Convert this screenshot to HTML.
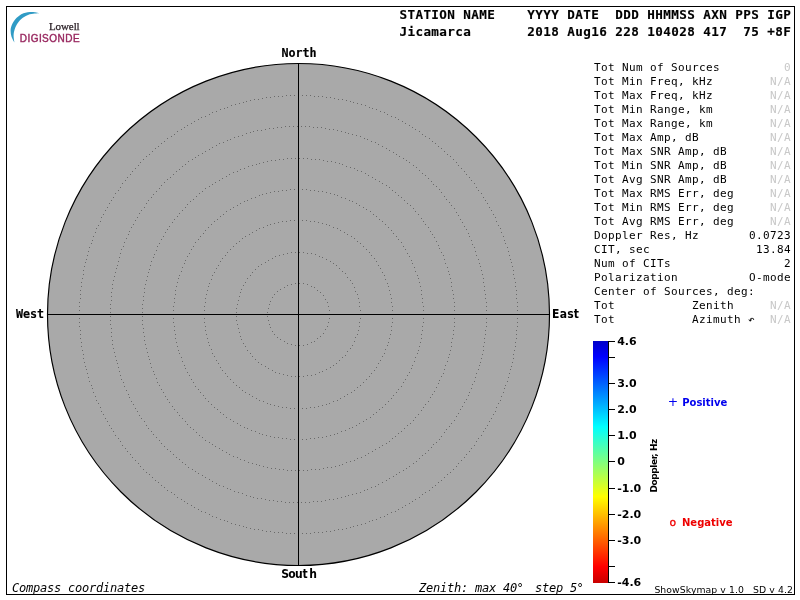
<!DOCTYPE html>
<html><head><meta charset="utf-8"><title>Skymap</title>
<style>
html,body{margin:0;padding:0;background:#fff;}
body{width:800px;height:600px;overflow:hidden;}
svg{display:block}
text{white-space:pre}
.hdr{font-family:"DejaVu Sans Mono","Liberation Mono",monospace;font-weight:bold;font-size:12.6px;letter-spacing:0.414px;fill:#000;stroke:#000;stroke-width:0.15px}
.tb{font-family:"DejaVu Sans Mono","Liberation Mono",monospace;font-size:11px;letter-spacing:0.377px;fill:#000}
.na{fill:#c8c8c8}
.it{font-family:"DejaVu Sans Mono","Liberation Mono",monospace;font-style:italic;font-size:12px;letter-spacing:-0.225px;fill:#000}
.cm{font-family:"DejaVu Sans Mono","Liberation Mono",monospace;font-weight:bold;font-size:11.7px;letter-spacing:-0.044px;fill:#000;stroke:#000;stroke-width:0.15px}
.cs{font-family:"DejaVu Sans Condensed","DejaVu Sans","Liberation Sans",sans-serif;font-weight:bold;font-size:12px;fill:#000}
.sc{font-family:"DejaVu Sans","Liberation Sans",sans-serif;font-weight:bold;font-size:11px;fill:#000}
.sm{font-family:"DejaVu Sans","Liberation Sans",sans-serif;font-size:9.3px;letter-spacing:0.075px;fill:#000}
.mk{font-family:"DejaVu Sans","Liberation Sans",sans-serif;font-weight:normal}
.lw{font-family:"Liberation Serif",serif;font-size:11px;fill:#2c2228;stroke:#2c2228;stroke-width:0.25px;letter-spacing:-0.1px}
.dg{font-family:"Liberation Sans",sans-serif;font-size:10px;letter-spacing:0.47px;fill:#98275f;stroke:#98275f;stroke-width:0.4px}
</style></head><body>
<svg width="800" height="600" viewBox="0 0 800 600">
<defs>
<linearGradient id="g" x1="0" y1="0" x2="0" y2="1">
<stop offset="0" stop-color="#0000c8"/>
<stop offset="0.065" stop-color="#0000ff"/>
<stop offset="0.3545" stop-color="#00ffff"/>
<stop offset="0.6435" stop-color="#ffff00"/>
<stop offset="0.933" stop-color="#ff0000"/>
<stop offset="1" stop-color="#c80000"/>
</linearGradient>
</defs>
<rect x="0" y="0" width="800" height="600" fill="#fff"/>
<rect x="6.5" y="6.5" width="788" height="588" fill="none" stroke="#000" stroke-width="1"/>
<g id="logo">
<path d="M39.2 13.2 C38.5 13.0 36.5 12.4 35.0 12.2 C33.5 12.0 31.6 11.9 30.0 12.0 C28.4 12.1 26.9 12.3 25.5 12.7 C24.1 13.1 23.0 13.2 21.3 14.3 C19.6 15.4 16.9 17.5 15.3 19.3 C13.7 21.1 12.5 23.4 11.7 25.3 C10.9 27.2 10.6 28.8 10.6 30.7 C10.6 32.6 10.9 34.7 11.5 36.7 C12.1 38.7 13.9 41.6 14.4 42.6 C14.3 41.5 13.6 38.0 13.6 36.0 C13.6 34.0 13.8 32.6 14.3 30.7 C14.8 28.8 15.5 26.6 16.7 24.7 C17.9 22.8 19.4 20.6 21.3 19.0 C23.2 17.4 25.8 15.9 28.0 15.0 C30.2 14.1 32.8 13.9 34.7 13.6 C36.6 13.3 38.5 13.3 39.2 13.2Z" fill="#2f9bc5"/>
<text class="lw" x="49" y="30.2">Lowell</text>
<text class="dg" x="19.7" y="42.1">DIGISONDE</text>
</g>
<text class="hdr" x="399.4" y="19.2">STATION NAME    YYYY DATE  DDD HHMMSS AXN PPS IGP</text>
<text class="hdr" x="399.4" y="35.5">Jicamarca       2018 Aug16 228 104028 417  75 +8F</text>
<circle cx="298.5" cy="314.5" r="251.0" fill="#a9a9a9" stroke="#000" stroke-width="1.15"/>
<path d="M329 314h1M329 310h1M328 306h1M327 302h1M325 299h1M323 295h1M320 292h1M317 290h1M314 287h1M311 286h1M307 284h1M303 283h1M299 283h1M295 283h1M291 284h1M287 285h1M284 287h1M280 289h1M277 291h1M274 294h1M272 297h1M270 301h1M269 304h1M268 308h1M267 312h1M267 316h1M268 320h1M269 324h1M270 327h1M272 331h1M274 334h1M277 337h1M280 339h1M284 341h1M287 343h1M291 344h1M295 345h1M299 345h1M303 345h1M307 344h1M311 342h1M314 341h1M317 338h1M320 336h1M323 333h1M325 329h1M327 326h1M328 322h1M329 318h1" transform="translate(0,0.5)" fill="none" stroke="#6a6a6a" stroke-width="1" shape-rendering="crispEdges"/>
<path d="M360 314h1M360 310h1M359 306h1M359 302h1M358 298h1M357 294h1M355 291h1M354 287h1M352 283h1M350 280h1M347 277h1M345 273h1M342 271h1M339 268h1M336 265h1M333 263h1M330 261h1M326 259h1M322 257h1M319 256h1M315 254h1M311 253h1M307 253h1M303 252h1M299 252h1M295 252h1M291 252h1M287 253h1M283 254h1M279 255h1M275 256h1M272 258h1M268 260h1M265 262h1M261 264h1M258 266h1M255 269h1M252 272h1M250 275h1M247 278h1M245 282h1M243 285h1M241 289h1M240 292h1M239 296h1M238 300h1M237 304h1M236 308h1M236 312h1M236 316h1M236 320h1M237 324h1M238 328h1M239 332h1M240 336h1M241 339h1M243 343h1M245 346h1M247 350h1M250 353h1M252 356h1M255 359h1M258 362h1M261 364h1M265 366h1M268 368h1M272 370h1M275 372h1M279 373h1M283 374h1M287 375h1M291 376h1M295 376h1M299 376h1M303 376h1M307 375h1M311 375h1M315 374h1M319 372h1M322 371h1M326 369h1M330 367h1M333 365h1M336 363h1M339 360h1M342 357h1M345 355h1M347 351h1M350 348h1M352 345h1M354 341h1M355 337h1M357 334h1M358 330h1M359 326h1M359 322h1M360 318h1" transform="translate(0,0.5)" fill="none" stroke="#6a6a6a" stroke-width="1" shape-rendering="crispEdges"/>
<path d="M392 314h1M392 310h1M392 306h1M391 302h1M391 298h1M390 294h1M389 290h1M388 286h1M387 283h1M385 279h1M384 275h1M382 272h1M380 268h1M378 265h1M376 261h1M374 258h1M371 255h1M369 252h1M366 249h1M363 246h1M360 243h1M357 241h1M354 238h1M351 236h1M347 234h1M344 232h1M340 230h1M337 228h1M333 227h1M329 225h1M326 224h1M322 223h1M318 222h1M314 221h1M310 221h1M306 220h1M302 220h1M298 220h1M294 220h1M290 220h1M286 221h1M282 221h1M278 222h1M274 223h1M270 224h1M267 225h1M263 227h1M259 228h1M256 230h1M252 232h1M249 234h1M245 236h1M242 238h1M239 241h1M236 243h1M233 246h1M230 249h1M227 252h1M225 255h1M222 258h1M220 261h1M218 265h1M216 268h1M214 272h1M212 275h1M211 279h1M209 283h1M208 286h1M207 290h1M206 294h1M205 298h1M205 302h1M204 306h1M204 310h1M204 314h1M204 318h1M204 322h1M205 326h1M205 330h1M206 334h1M207 338h1M208 342h1M209 345h1M211 349h1M212 353h1M214 356h1M216 360h1M218 363h1M220 367h1M222 370h1M225 373h1M227 376h1M230 379h1M233 382h1M236 385h1M239 387h1M242 390h1M245 392h1M249 394h1M252 396h1M256 398h1M259 400h1M263 401h1M267 403h1M270 404h1M274 405h1M278 406h1M282 407h1M286 407h1M290 408h1M294 408h1M298 408h1M302 408h1M306 408h1M310 407h1M314 407h1M318 406h1M322 405h1M326 404h1M329 403h1M333 401h1M337 400h1M340 398h1M344 396h1M347 394h1M351 392h1M354 390h1M357 387h1M360 385h1M363 382h1M366 379h1M369 376h1M371 373h1M374 370h1M376 367h1M378 363h1M380 360h1M382 356h1M384 353h1M385 349h1M387 345h1M388 342h1M389 338h1M390 334h1M391 330h1M391 326h1M392 322h1M392 318h1" transform="translate(0,0.5)" fill="none" stroke="#6a6a6a" stroke-width="1" shape-rendering="crispEdges"/>
<path d="M423 314h1M423 310h1M423 306h1M422 302h1M422 298h1M421 294h1M421 290h1M420 286h1M419 282h1M418 278h1M417 275h1M415 271h1M414 267h1M412 263h1M411 260h1M409 256h1M407 253h1M405 249h1M403 246h1M401 242h1M398 239h1M396 236h1M393 233h1M391 230h1M388 227h1M385 224h1M382 221h1M379 219h1M376 216h1M373 214h1M370 211h1M366 209h1M363 207h1M359 205h1M356 203h1M352 201h1M349 200h1M345 198h1M341 197h1M337 195h1M334 194h1M330 193h1M326 192h1M322 191h1M318 191h1M314 190h1M310 190h1M306 189h1M302 189h1M298 189h1M294 189h1M290 189h1M286 190h1M282 190h1M278 191h1M274 191h1M270 192h1M266 193h1M262 194h1M259 195h1M255 197h1M251 198h1M247 200h1M244 201h1M240 203h1M237 205h1M233 207h1M230 209h1M226 211h1M223 214h1M220 216h1M217 219h1M214 221h1M211 224h1M208 227h1M205 230h1M203 233h1M200 236h1M198 239h1M195 242h1M193 246h1M191 249h1M189 253h1M187 256h1M185 260h1M184 263h1M182 267h1M181 271h1M179 275h1M178 278h1M177 282h1M176 286h1M175 290h1M175 294h1M174 298h1M174 302h1M173 306h1M173 310h1M173 314h1M173 318h1M173 322h1M174 326h1M174 330h1M175 334h1M175 338h1M176 342h1M177 346h1M178 350h1M179 353h1M181 357h1M182 361h1M184 365h1M185 368h1M187 372h1M189 375h1M191 379h1M193 382h1M195 386h1M198 389h1M200 392h1M203 395h1M205 398h1M208 401h1M211 404h1M214 407h1M217 409h1M220 412h1M223 414h1M226 417h1M230 419h1M233 421h1M237 423h1M240 425h1M244 427h1M247 428h1M251 430h1M255 431h1M259 433h1M262 434h1M266 435h1M270 436h1M274 437h1M278 437h1M282 438h1M286 438h1M290 439h1M294 439h1M298 439h1M302 439h1M306 439h1M310 438h1M314 438h1M318 437h1M322 437h1M326 436h1M330 435h1M334 434h1M337 433h1M341 431h1M345 430h1M349 428h1M352 427h1M356 425h1M359 423h1M363 421h1M366 419h1M370 417h1M373 414h1M376 412h1M379 409h1M382 407h1M385 404h1M388 401h1M391 398h1M393 395h1M396 392h1M398 389h1M401 386h1M403 382h1M405 379h1M407 375h1M409 372h1M411 368h1M412 365h1M414 361h1M415 357h1M417 353h1M418 350h1M419 346h1M420 342h1M421 338h1M421 334h1M422 330h1M422 326h1M423 322h1M423 318h1" transform="translate(0,0.5)" fill="none" stroke="#6a6a6a" stroke-width="1" shape-rendering="crispEdges"/>
<path d="M454 314h1M454 310h1M454 306h1M454 302h1M453 298h1M453 294h1M452 290h1M451 286h1M451 282h1M450 278h1M449 274h1M448 271h1M447 267h1M445 263h1M444 259h1M443 255h1M441 252h1M439 248h1M438 245h1M436 241h1M434 237h1M432 234h1M430 231h1M428 227h1M425 224h1M423 221h1M421 218h1M418 214h1M415 211h1M413 208h1M410 205h1M407 203h1M404 200h1M401 197h1M398 195h1M395 192h1M392 190h1M389 187h1M386 185h1M382 183h1M379 181h1M375 179h1M372 177h1M368 175h1M365 173h1M361 171h1M357 170h1M354 168h1M350 167h1M346 166h1M342 164h1M339 163h1M335 162h1M331 161h1M327 161h1M323 160h1M319 159h1M315 159h1M311 159h1M307 158h1M303 158h1M299 158h1M295 158h1M291 158h1M287 158h1M283 159h1M279 159h1M275 160h1M271 160h1M267 161h1M263 162h1M259 163h1M256 164h1M252 165h1M248 166h1M244 168h1M240 169h1M237 171h1M233 172h1M229 174h1M226 176h1M222 178h1M219 180h1M215 182h1M212 184h1M209 186h1M205 188h1M202 191h1M199 193h1M196 196h1M193 199h1M190 201h1M187 204h1M185 207h1M182 210h1M179 213h1M177 216h1M174 219h1M172 222h1M169 226h1M167 229h1M165 232h1M163 236h1M161 239h1M159 243h1M157 246h1M156 250h1M154 254h1M153 257h1M151 261h1M150 265h1M149 269h1M148 272h1M147 276h1M146 280h1M145 284h1M144 288h1M144 292h1M143 296h1M143 300h1M142 304h1M142 308h1M142 312h1M142 316h1M142 320h1M142 324h1M143 328h1M143 332h1M144 336h1M144 340h1M145 344h1M146 348h1M147 352h1M148 356h1M149 359h1M150 363h1M151 367h1M153 371h1M154 374h1M156 378h1M157 382h1M159 385h1M161 389h1M163 392h1M165 396h1M167 399h1M169 402h1M172 406h1M174 409h1M177 412h1M179 415h1M182 418h1M185 421h1M187 424h1M190 427h1M193 429h1M196 432h1M199 435h1M202 437h1M205 440h1M209 442h1M212 444h1M215 446h1M219 448h1M222 450h1M226 452h1M229 454h1M233 456h1M237 457h1M240 459h1M244 460h1M248 462h1M252 463h1M256 464h1M259 465h1M263 466h1M267 467h1M271 468h1M275 468h1M279 469h1M283 469h1M287 470h1M291 470h1M295 470h1M299 470h1M303 470h1M307 470h1M311 469h1M315 469h1M319 469h1M323 468h1M327 467h1M331 467h1M335 466h1M339 465h1M342 464h1M346 462h1M350 461h1M354 460h1M357 458h1M361 457h1M365 455h1M368 453h1M372 451h1M375 449h1M379 447h1M382 445h1M386 443h1M389 441h1M392 438h1M395 436h1M398 433h1M401 431h1M404 428h1M407 425h1M410 423h1M413 420h1M415 417h1M418 414h1M421 410h1M423 407h1M425 404h1M428 401h1M430 397h1M432 394h1M434 391h1M436 387h1M438 383h1M439 380h1M441 376h1M443 373h1M444 369h1M445 365h1M447 361h1M448 357h1M449 354h1M450 350h1M451 346h1M451 342h1M452 338h1M453 334h1M453 330h1M454 326h1M454 322h1M454 318h1" transform="translate(0,0.5)" fill="none" stroke="#6a6a6a" stroke-width="1" shape-rendering="crispEdges"/>
<path d="M486 314h1M486 310h1M486 306h1M486 302h1M485 298h1M485 294h1M484 290h1M484 286h1M483 282h1M483 278h1M482 274h1M481 270h1M480 266h1M479 263h1M478 259h1M476 255h1M475 251h1M474 247h1M472 244h1M471 240h1M469 236h1M468 233h1M466 229h1M464 226h1M462 222h1M460 219h1M458 215h1M456 212h1M454 208h1M451 205h1M449 202h1M446 199h1M444 196h1M441 192h1M439 189h1M436 186h1M433 184h1M431 181h1M428 178h1M425 175h1M422 173h1M419 170h1M416 167h1M413 165h1M409 162h1M406 160h1M403 158h1M399 156h1M396 154h1M393 152h1M389 150h1M386 148h1M382 146h1M378 144h1M375 142h1M371 141h1M367 139h1M364 138h1M360 136h1M356 135h1M352 134h1M348 133h1M345 132h1M341 131h1M337 130h1M333 129h1M329 129h1M325 128h1M321 127h1M317 127h1M313 127h1M309 126h1M305 126h1M301 126h1M297 126h1M293 126h1M289 126h1M285 126h1M281 127h1M277 127h1M273 128h1M269 128h1M265 129h1M261 130h1M257 130h1M253 131h1M250 132h1M246 133h1M242 135h1M238 136h1M234 137h1M230 139h1M227 140h1M223 142h1M219 143h1M216 145h1M212 147h1M209 149h1M205 151h1M202 153h1M198 155h1M195 157h1M192 159h1M188 161h1M185 164h1M182 166h1M179 169h1M176 171h1M173 174h1M170 177h1M167 179h1M164 182h1M161 185h1M159 188h1M156 191h1M153 194h1M151 197h1M148 200h1M146 203h1M144 207h1M141 210h1M139 213h1M137 217h1M135 220h1M133 224h1M131 227h1M129 231h1M128 234h1M126 238h1M124 242h1M123 246h1M121 249h1M120 253h1M119 257h1M118 261h1M117 265h1M116 268h1M115 272h1M114 276h1M113 280h1M112 284h1M112 288h1M111 292h1M111 296h1M111 300h1M110 304h1M110 308h1M110 312h1M110 316h1M110 320h1M110 324h1M111 328h1M111 332h1M111 336h1M112 340h1M112 344h1M113 348h1M114 352h1M115 356h1M116 360h1M117 363h1M118 367h1M119 371h1M120 375h1M121 379h1M123 382h1M124 386h1M126 390h1M128 394h1M129 397h1M131 401h1M133 404h1M135 408h1M137 411h1M139 415h1M141 418h1M144 421h1M146 425h1M148 428h1M151 431h1M153 434h1M156 437h1M159 440h1M161 443h1M164 446h1M167 449h1M170 451h1M173 454h1M176 457h1M179 459h1M182 462h1M185 464h1M188 467h1M192 469h1M195 471h1M198 473h1M202 475h1M205 477h1M209 479h1M212 481h1M216 483h1M219 485h1M223 486h1M227 488h1M230 489h1M234 491h1M238 492h1M242 493h1M246 495h1M250 496h1M253 497h1M257 498h1M261 498h1M265 499h1M269 500h1M273 500h1M277 501h1M281 501h1M285 502h1M289 502h1M293 502h1M297 502h1M301 502h1M305 502h1M309 502h1M313 501h1M317 501h1M321 501h1M325 500h1M329 499h1M333 499h1M337 498h1M341 497h1M345 496h1M348 495h1M352 494h1M356 493h1M360 492h1M364 490h1M367 489h1M371 487h1M375 486h1M378 484h1M382 482h1M386 480h1M389 478h1M393 476h1M396 474h1M399 472h1M403 470h1M406 468h1M409 466h1M413 463h1M416 461h1M419 458h1M422 455h1M425 453h1M428 450h1M431 447h1M433 444h1M436 442h1M439 439h1M441 436h1M444 432h1M446 429h1M449 426h1M451 423h1M454 420h1M456 416h1M458 413h1M460 409h1M462 406h1M464 402h1M466 399h1M468 395h1M469 392h1M471 388h1M472 384h1M474 381h1M475 377h1M476 373h1M478 369h1M479 365h1M480 362h1M481 358h1M482 354h1M483 350h1M483 346h1M484 342h1M484 338h1M485 334h1M485 330h1M486 326h1M486 322h1M486 318h1" transform="translate(0,0.5)" fill="none" stroke="#6a6a6a" stroke-width="1" shape-rendering="crispEdges"/>
<path d="M517 314h1M517 310h1M517 306h1M517 302h1M516 298h1M516 294h1M516 290h1M515 286h1M515 282h1M514 278h1M513 274h1M513 270h1M512 266h1M511 262h1M510 259h1M509 255h1M508 251h1M507 247h1M505 243h1M504 240h1M503 236h1M501 232h1M500 228h1M498 225h1M496 221h1M495 217h1M493 214h1M491 210h1M489 207h1M487 203h1M485 200h1M483 197h1M481 193h1M478 190h1M476 187h1M474 183h1M471 180h1M469 177h1M466 174h1M464 171h1M461 168h1M458 165h1M456 162h1M453 159h1M450 156h1M447 154h1M444 151h1M441 148h1M438 146h1M435 143h1M432 141h1M429 138h1M425 136h1M422 134h1M419 131h1M415 129h1M412 127h1M409 125h1M405 123h1M402 121h1M398 119h1M395 117h1M391 116h1M387 114h1M384 112h1M380 111h1M376 109h1M372 108h1M369 107h1M365 105h1M361 104h1M357 103h1M353 102h1M350 101h1M346 100h1M342 99h1M338 99h1M334 98h1M330 97h1M326 97h1M322 96h1M318 96h1M314 96h1M310 95h1M306 95h1M302 95h1M298 95h1M294 95h1M290 95h1M286 95h1M282 96h1M278 96h1M274 96h1M270 97h1M266 97h1M262 98h1M258 99h1M254 99h1M250 100h1M246 101h1M243 102h1M239 103h1M235 104h1M231 105h1M227 107h1M224 108h1M220 109h1M216 111h1M212 112h1M209 114h1M205 116h1M201 117h1M198 119h1M194 121h1M191 123h1M187 125h1M184 127h1M181 129h1M177 131h1M174 134h1M171 136h1M167 138h1M164 141h1M161 143h1M158 146h1M155 148h1M152 151h1M149 154h1M146 156h1M143 159h1M140 162h1M138 165h1M135 168h1M132 171h1M130 174h1M127 177h1M125 180h1M122 183h1M120 187h1M118 190h1M115 193h1M113 197h1M111 200h1M109 203h1M107 207h1M105 210h1M103 214h1M101 217h1M100 221h1M98 225h1M96 228h1M95 232h1M93 236h1M92 240h1M91 243h1M89 247h1M88 251h1M87 255h1M86 259h1M85 262h1M84 266h1M83 270h1M83 274h1M82 278h1M81 282h1M81 286h1M80 290h1M80 294h1M80 298h1M79 302h1M79 306h1M79 310h1M79 314h1M79 318h1M79 322h1M79 326h1M80 330h1M80 334h1M80 338h1M81 342h1M81 346h1M82 350h1M83 354h1M83 358h1M84 362h1M85 366h1M86 369h1M87 373h1M88 377h1M89 381h1M91 385h1M92 388h1M93 392h1M95 396h1M96 400h1M98 403h1M100 407h1M101 411h1M103 414h1M105 418h1M107 421h1M109 425h1M111 428h1M113 431h1M115 435h1M118 438h1M120 441h1M122 445h1M125 448h1M127 451h1M130 454h1M132 457h1M135 460h1M138 463h1M140 466h1M143 469h1M146 472h1M149 474h1M152 477h1M155 480h1M158 482h1M161 485h1M164 487h1M167 490h1M171 492h1M174 494h1M177 497h1M181 499h1M184 501h1M187 503h1M191 505h1M194 507h1M198 509h1M201 511h1M205 512h1M209 514h1M212 516h1M216 517h1M220 519h1M224 520h1M227 521h1M231 523h1M235 524h1M239 525h1M243 526h1M246 527h1M250 528h1M254 529h1M258 529h1M262 530h1M266 531h1M270 531h1M274 532h1M278 532h1M282 532h1M286 533h1M290 533h1M294 533h1M298 533h1M302 533h1M306 533h1M310 533h1M314 532h1M318 532h1M322 532h1M326 531h1M330 531h1M334 530h1M338 529h1M342 529h1M346 528h1M350 527h1M353 526h1M357 525h1M361 524h1M365 523h1M369 521h1M372 520h1M376 519h1M380 517h1M384 516h1M387 514h1M391 512h1M395 511h1M398 509h1M402 507h1M405 505h1M409 503h1M412 501h1M415 499h1M419 497h1M422 494h1M425 492h1M429 490h1M432 487h1M435 485h1M438 482h1M441 480h1M444 477h1M447 474h1M450 472h1M453 469h1M456 466h1M458 463h1M461 460h1M464 457h1M466 454h1M469 451h1M471 448h1M474 445h1M476 441h1M478 438h1M481 435h1M483 431h1M485 428h1M487 425h1M489 421h1M491 418h1M493 414h1M495 411h1M496 407h1M498 403h1M500 400h1M501 396h1M503 392h1M504 388h1M505 385h1M507 381h1M508 377h1M509 373h1M510 369h1M511 366h1M512 362h1M513 358h1M513 354h1M514 350h1M515 346h1M515 342h1M516 338h1M516 334h1M516 330h1M517 326h1M517 322h1M517 318h1" transform="translate(0,0.5)" fill="none" stroke="#6a6a6a" stroke-width="1" shape-rendering="crispEdges"/>
<rect x="298" y="63" width="1" height="503" fill="#000"/>
<rect x="47" y="314" width="503" height="1" fill="#000"/>
<text class="cm" x="281.6" y="56.8">North</text>
<text class="cm" x="16" y="317.9">West</text>
<text class="cs" x="552" y="318" style="letter-spacing:0.25px">East</text>
<text class="cs" x="281.25 288.2 294.9 302.4 309.25" y="578">South</text>
<text class="tb" x="594" y="71">Tot Num of Sources</text><text class="tb na" x="784" y="71">0</text>
<text class="tb" x="594" y="85">Tot Min Freq, kHz</text><text class="tb na" x="770" y="85">N/A</text>
<text class="tb" x="594" y="99">Tot Max Freq, kHz</text><text class="tb na" x="770" y="99">N/A</text>
<text class="tb" x="594" y="113">Tot Min Range, km</text><text class="tb na" x="770" y="113">N/A</text>
<text class="tb" x="594" y="127">Tot Max Range, km</text><text class="tb na" x="770" y="127">N/A</text>
<text class="tb" x="594" y="141">Tot Max Amp, dB</text><text class="tb na" x="770" y="141">N/A</text>
<text class="tb" x="594" y="155">Tot Max SNR Amp, dB</text><text class="tb na" x="770" y="155">N/A</text>
<text class="tb" x="594" y="169">Tot Min SNR Amp, dB</text><text class="tb na" x="770" y="169">N/A</text>
<text class="tb" x="594" y="183">Tot Avg SNR Amp, dB</text><text class="tb na" x="770" y="183">N/A</text>
<text class="tb" x="594" y="197">Tot Max RMS Err, deg</text><text class="tb na" x="770" y="197">N/A</text>
<text class="tb" x="594" y="211">Tot Min RMS Err, deg</text><text class="tb na" x="770" y="211">N/A</text>
<text class="tb" x="594" y="225">Tot Avg RMS Err, deg</text><text class="tb na" x="770" y="225">N/A</text>
<text class="tb" x="594" y="239">Doppler Res, Hz</text><text class="tb" x="749" y="239">0.0723</text>
<text class="tb" x="594" y="253">CIT, sec</text><text class="tb" x="756" y="253">13.84</text>
<text class="tb" x="594" y="267">Num of CITs</text><text class="tb" x="784" y="267">2</text>
<text class="tb" x="594" y="281">Polarization</text><text class="tb" x="749" y="281">O-mode</text>
<text class="tb" x="594" y="295">Center of Sources, deg:</text>
<text class="tb" x="594" y="309">Tot           Zenith</text><text class="tb na" x="770" y="309">N/A</text>
<text class="tb" x="594" y="323">Tot           Azimuth ↶</text><text class="tb na" x="770" y="323">N/A</text>
<rect x="593" y="341" width="15" height="242" fill="url(#g)"/>
<rect x="608" y="341" width="1" height="242" fill="#000"/>
<rect x="609" y="341" width="6" height="1" fill="#000"/><text class="sc" x="617.2" y="345">4.6</text>
<rect x="609" y="357" width="6" height="1" fill="#000"/>
<rect x="609" y="383" width="6" height="1" fill="#000"/><text class="sc" x="617.2" y="387">3.0</text>
<rect x="609" y="409" width="6" height="1" fill="#000"/><text class="sc" x="617.2" y="413">2.0</text>
<rect x="609" y="435" width="6" height="1" fill="#000"/><text class="sc" x="617.2" y="439">1.0</text>
<rect x="609" y="461" width="6" height="1" fill="#000"/><text class="sc" x="617.2" y="465">0</text>
<rect x="609" y="488" width="6" height="1" fill="#000"/><text class="sc" x="617.2" y="492">-1.0</text>
<rect x="609" y="514" width="6" height="1" fill="#000"/><text class="sc" x="617.2" y="518">-2.0</text>
<rect x="609" y="540" width="6" height="1" fill="#000"/><text class="sc" x="617.2" y="544">-3.0</text>
<rect x="609" y="566" width="6" height="1" fill="#000"/>
<rect x="609" y="582" width="6" height="1" fill="#000"/><text class="sc" x="617.2" y="586">-4.6</text>
<text class="sc" transform="translate(657,492.4) rotate(-90)" style="font-size:9px;letter-spacing:-0.45px">Doppler, Hz</text>
<text class="mk" x="667.8" y="405.9" style="font-size:12.4px;fill:#0000f0">+</text><text class="sc" x="682.2" y="406" style="font-size:10px;fill:#0000ee">Positive</text>
<text class="mk" x="669.5" y="525.6" style="font-size:10.8px;fill:#f00000;stroke:#f00000;stroke-width:0.3px">o</text><text class="sc" x="682" y="526" style="font-size:10px;fill:#ee0000">Negative</text>
<text class="it" x="12" y="592.4">Compass coordinates</text>
<text class="it" y="592.4"><tspan x="419">Zenith: max 40</tspan><tspan x="516.5">°  </tspan><tspan x="535">step 5</tspan><tspan x="576.4">°</tspan></text>
<text class="sm" x="654.4" y="592.7">ShowSkymap v 1.0   SD v 4.2</text>
</svg>
</body></html>
